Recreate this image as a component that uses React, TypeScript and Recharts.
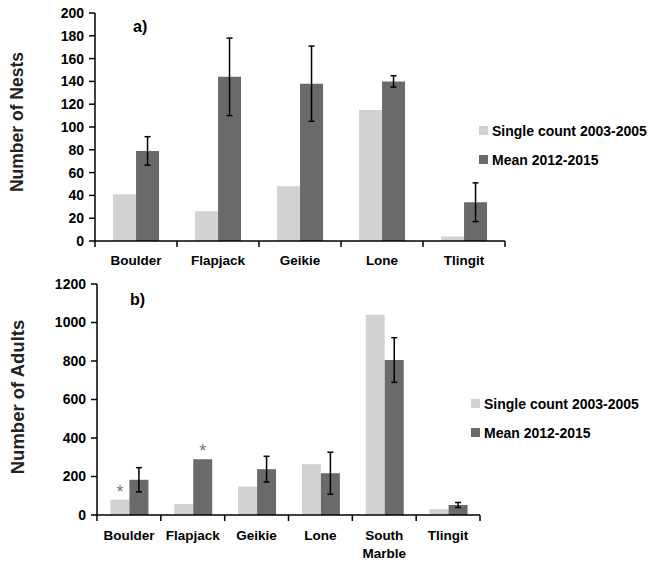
import React from "react";
import { BarChart, Bar, XAxis, YAxis, ErrorBar, LabelList, Legend, Text } from "recharts";

const seriesNames = ["Single count 2003-2005", "Mean 2012-2015"];

const categoriesA = ["Boulder", "Flapjack", "Geikie", "Lone", "Tlingit"];
const singleA = [41, 26, 48, 115, 4];
const meanA = [79, 144, 138, 140, 34];
const meanErrA = [12.5, 34, 33, 5, 17];
const ticksA = [0, 20, 40, 60, 80, 100, 120, 140, 160, 180, 200];

const categoriesB = ["Boulder", "Flapjack", "Geikie", "Lone", "South Marble", "Tlingit"];
const singleB = [80, 57, 148, 264, 1040, 31];
const meanB = [183, 290, 238, 217, 805, 52];
const meanErrB = [63, null, 67, 109, 116, 13];
const starSingleB = ["*", "", "", "", "", ""];
const starMeanB = ["", "*", "", "", "", ""];
const ticksB = [0, 200, 400, 600, 800, 1000, 1200];

const LIGHT = "#d2d2d2";
const DARK = "#6a6a6a";
const FONT = "'Liberation Sans', Arial, sans-serif";

const dataA = categoriesA.map((name, i) => ({
  name,
  single: singleA[i],
  mean: meanA[i],
  err: meanErrA[i],
}));

const dataB = categoriesB.map((name, i) => ({
  name,
  single: singleB[i],
  mean: meanB[i],
  err: meanErrB[i],
  starS: starSingleB[i],
  starM: starMeanB[i],
}));

function LegendBox({ payload }: any) {
  const items = [...(payload || [])].sort(
    (a: any, b: any) => seriesNames.indexOf(a.value) - seriesNames.indexOf(b.value)
  );
  return (
    <div style={{ fontFamily: FONT, fontWeight: "bold", fontSize: 14, color: "#000" }}>
      {items.map((p: any) => (
        <div key={p.value} style={{ display: "flex", alignItems: "center", height: 29 }}>
          <span style={{ width: 9, height: 9, background: p.color, marginRight: 4, display: "inline-block" }} />
          <span>{p.value}</span>
        </div>
      ))}
    </div>
  );
}

// category label plus Excel-style tick marks on the category boundaries
function CatTick({ x, y, payload, gap, count }: any) {
  const half = payload.offset || 0;
  const y0 = y - gap;
  return (
    <g>
      <line x1={x - half} x2={x - half} y1={y0} y2={y0 + 6} stroke="#000" strokeWidth={1.5} />
      {payload.index === count - 1 && (
        <line x1={x + half} x2={x + half} y1={y0} y2={y0 + 6} stroke="#000" strokeWidth={1.5} />
      )}
      <Text
        x={x}
        y={y}
        width={62}
        textAnchor="middle"
        verticalAnchor="start"
        lineHeight={18}
        style={{ fontFamily: FONT, fontWeight: "bold", fontSize: 13.5, fill: "#000" }}
      >
        {payload.value}
      </Text>
    </g>
  );
}

const tickStyle = { fontFamily: FONT, fontWeight: "bold", fontSize: 14, fill: "#000" };
const axisLine = { stroke: "#000", strokeWidth: 1.5 };
const tickLine = { stroke: "#000", strokeWidth: 1.5 };

export default function App() {
  return (
    <div style={{ position: "absolute", left: 0, top: 0, width: 654, height: 562, background: "#fff" }}>
      <div style={{ position: "absolute", left: 0, top: 0 }}>
        <BarChart width={654} height={280} data={dataA} margin={{ top: 13, right: 149, left: 0, bottom: 9 }}
          barCategoryGap="22%" barGap={0}>
          <XAxis dataKey="name" height={30} tickLine={false} axisLine={axisLine} tickSize={0}
            tickMargin={14} tick={<CatTick gap={14} count={categoriesA.length} />} interval={0} />
          <YAxis domain={[0, 200]} ticks={ticksA} width={95} interval={0} tickSize={6} tickMargin={5}
            tick={tickStyle} axisLine={axisLine} tickLine={tickLine} />
          <Legend layout="vertical" align="center" verticalAlign="middle" content={<LegendBox />}
            wrapperStyle={{ left: 479, top: 116, width: 175 }} />
          <Bar dataKey="single" name={seriesNames[0]} fill={LIGHT} isAnimationActive={false} />
          <Bar dataKey="mean" name={seriesNames[1]} fill={DARK} isAnimationActive={false}>
            <ErrorBar dataKey="err" width={3} strokeWidth={1.5} stroke="#000" direction="y" />
          </Bar>
          <text x={17} y={122} transform="rotate(-90 17 122)" textAnchor="middle" dominantBaseline="central"
            style={{ fontFamily: FONT, fontWeight: "bold", fontSize: 17.5, fill: "#222" }}>Number of Nests</text>
          <text x={133} y={32} style={{ fontFamily: FONT, fontWeight: "bold", fontSize: 16, fill: "#000" }}>a)</text>
        </BarChart>
      </div>
      <div style={{ position: "absolute", left: 0, top: 270 }}>
        <BarChart width={654} height={292} data={dataB} margin={{ top: 14, right: 174, left: 0, bottom: 7 }}
          barCategoryGap="21%" barGap={0}>
          <XAxis dataKey="name" height={40} tickLine={false} axisLine={axisLine} tickSize={0}
            tickMargin={15} tick={<CatTick gap={15} count={categoriesB.length} />} interval={0} />
          <YAxis domain={[0, 1200]} ticks={ticksB} width={97} interval={0} tickSize={6} tickMargin={5}
            tick={tickStyle} axisLine={axisLine} tickLine={tickLine} />
          <Legend layout="vertical" align="center" verticalAlign="middle" content={<LegendBox />}
            wrapperStyle={{ left: 471, top: 119, width: 183 }} />
          <Bar dataKey="single" name={seriesNames[0]} fill={LIGHT} isAnimationActive={false}>
            <LabelList dataKey="starS" position="top" offset={2}
              style={{ fontFamily: FONT, fontSize: 18, fill: "#777" }} />
          </Bar>
          <Bar dataKey="mean" name={seriesNames[1]} fill={DARK} isAnimationActive={false}>
            <ErrorBar dataKey="err" width={3} strokeWidth={1.5} stroke="#000" direction="y" />
            <LabelList dataKey="starM" position="top" offset={2}
              style={{ fontFamily: FONT, fontSize: 18, fill: "#777" }} />
          </Bar>
          <text x={17} y={127} transform="rotate(-90 17 127)" textAnchor="middle" dominantBaseline="central"
            style={{ fontFamily: FONT, fontWeight: "bold", fontSize: 18.5, fill: "#222" }}>Number of Adults</text>
          <text x={130} y={35} style={{ fontFamily: FONT, fontWeight: "bold", fontSize: 16, fill: "#000" }}>b)</text>
        </BarChart>
      </div>
    </div>
  );
}
